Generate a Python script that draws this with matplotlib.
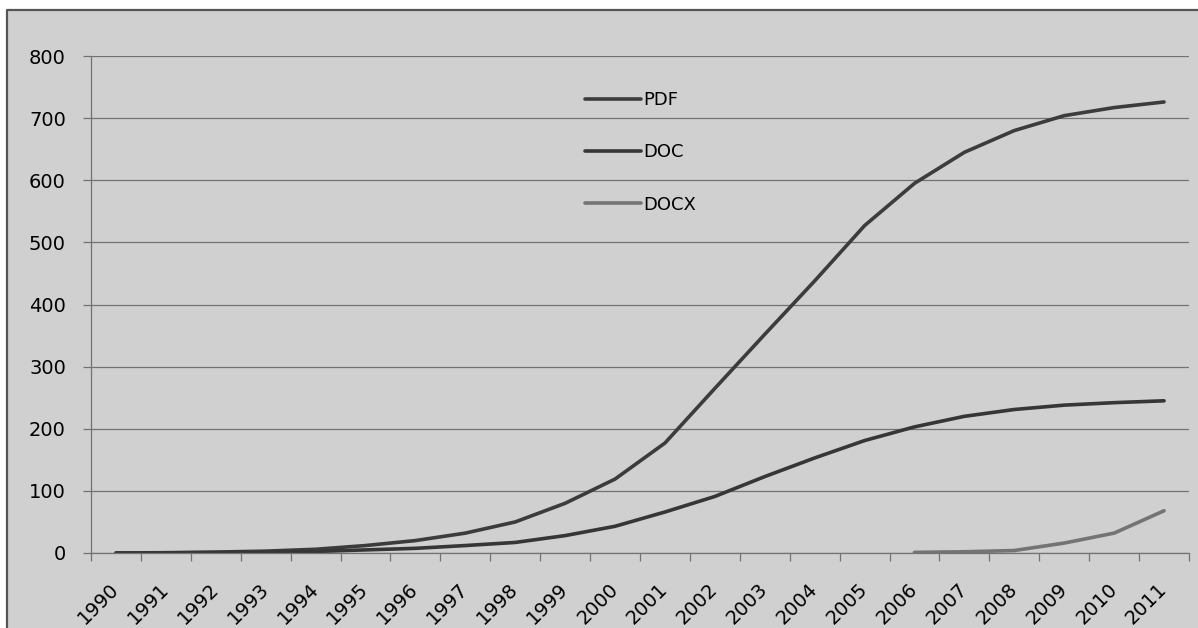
import numpy as np
import matplotlib
matplotlib.use("Agg")
import matplotlib.pyplot as plt
from matplotlib.patches import Rectangle
from matplotlib.lines import Line2D

# ─── Datos ──────────────────────────────────────────────────────────────────
years = [str(y) for y in range(1990, 2012)]
pdf  = [0, 0.5, 1.5, 3, 6, 12, 20, 32, 50, 80, 119, 177,
        265, 352, 438, 527, 595, 645, 680, 704, 717, 726]
doc  = [0, 0.2, 0.6, 1.2, 2.5, 5, 7.5, 12, 17, 28, 43, 66,
        91, 123, 153, 181, 203, 220, 231, 238, 242, 245]
docx = [np.nan] * 16 + [1, 2, 4, 16, 32, 68]
y_ticks = list(range(0, 801, 100))

# ─── Colores ────────────────────────────────────────────────────────────────
C_BG   = "#d0d0d0"
C_GRID = "#727272"
C_PDF  = "#3c3c3c"
C_DOC  = "#363636"
C_DOCX = "#747474"

W, H = 1198, 628
fig = plt.figure(figsize=(W / 100, H / 100), dpi=100, facecolor="white")

# fondo gris, con borde sólo a la izquierda y arriba
x0, y1 = 7 / W, 1 - 10 / H
fig.add_artist(Rectangle((x0, -0.05), 1.1 - x0, y1 + 0.05,
                         transform=fig.transFigure, facecolor=C_BG,
                         edgecolor="none", lw=0, zorder=0))
fig.add_artist(Line2D([x0, x0, 1.05], [-0.05, y1, y1],
                      transform=fig.transFigure,
                      color="#555555", lw=1.6, zorder=1))

ax = fig.add_axes([91 / W, 1 - 553 / H, (1189 - 91) / W, (553 - 56) / H])
ax.set_facecolor("none")

x = np.arange(len(years))
ax.plot(x, pdf,  color=C_PDF,  lw=2.6, label="PDF",  solid_capstyle="round")
ax.plot(x, doc,  color=C_DOC,  lw=2.6, label="DOC",  solid_capstyle="round")
ax.plot(x, docx, color=C_DOCX, lw=2.6, label="DOCX", solid_capstyle="round")

ax.set_xlim(-0.5, len(years) - 0.5)
ax.set_ylim(0, 800)
ax.set_yticks(y_ticks)
ax.yaxis.grid(True, color=C_GRID, lw=0.9)
ax.set_axisbelow(True)

ax.set_xticks(x, years, rotation=45, ha="right", rotation_mode="anchor",
              va="center")
ax.set_xticks(np.arange(-0.5, len(years)), minor=True)
ax.tick_params(axis="x", which="major", length=0, pad=24, labelsize=14)
ax.tick_params(axis="x", which="minor", length=6, color=C_GRID, width=0.9)
ax.tick_params(axis="y", length=6, color=C_GRID, width=0.9, pad=12,
               labelsize=14)

for s in ["top", "right"]:
    ax.spines[s].set_visible(False)
for s in ["left", "bottom"]:
    ax.spines[s].set_color(C_GRID)
    ax.spines[s].set_linewidth(0.9)

leg = ax.legend(loc="upper left", bbox_to_anchor=(585 / W, 1 - 91 / H),
                bbox_transform=fig.transFigure, frameon=False, fontsize=13,
                handlelength=3.1, handletextpad=0.15, labelspacing=1.9,
                borderpad=0, borderaxespad=0)

fig.savefig("out.png", dpi=100, facecolor="white")
